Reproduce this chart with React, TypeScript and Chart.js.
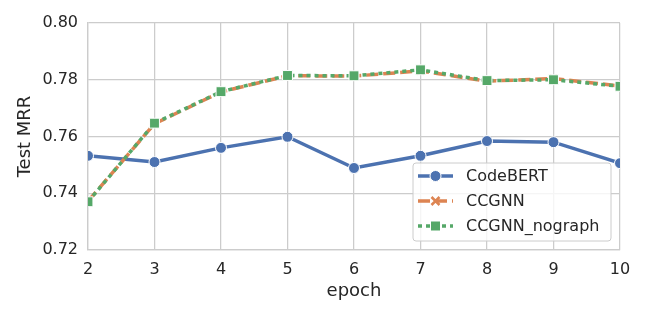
import React, { useEffect, useRef } from "react";
import { Chart, registerables } from "chart.js";

Chart.register(...registerables);

const epochs = [2, 3, 4, 5, 6, 7, 8, 9, 10];
const codebert = [0.7532, 0.751, 0.756, 0.7599, 0.7489, 0.7532, 0.7584, 0.758, 0.7506];
const ccgnn = [0.7372, 0.7645, 0.7757, 0.7814, 0.7813, 0.7831, 0.7795, 0.7804, 0.7778];
const ccgnnNograph = [0.737, 0.7647, 0.7758, 0.7815, 0.7814, 0.7835, 0.7797, 0.78, 0.7777];
const seriesNames = ["CodeBERT", "CCGNN", "CCGNN_nograph"];
const yTicks = [0.72, 0.74, 0.76, 0.78, 0.8];

const BLUE = "#4c72b0";
const ORANGE = "#dd8452";
const GREEN = "#55a868";
const TEXT = "#262626";
const GRID = "#cccccc";
const FONT = "DejaVu Sans";

const toXY = (vals: number[]) => vals.map((v, i) => ({ x: epochs[i], y: v }));

function drawMarker(ctx: CanvasRenderingContext2D, kind: string, x: number, y: number, color: string) {
  ctx.save();
  ctx.setLineDash([]);
  if (kind === "circle") {
    ctx.beginPath();
    ctx.arc(x, y, 5.5, 0, Math.PI * 2);
    ctx.fillStyle = color;
    ctx.fill();
    ctx.strokeStyle = "#ffffff";
    ctx.lineWidth = 1;
    ctx.stroke();
  } else if (kind === "cross") {
    const r = 4;
    ctx.strokeStyle = color;
    ctx.lineWidth = 2.5;
    ctx.beginPath();
    ctx.moveTo(x - r, y - r);
    ctx.lineTo(x + r, y + r);
    ctx.moveTo(x + r, y - r);
    ctx.lineTo(x - r, y + r);
    ctx.stroke();
  } else {
    ctx.fillStyle = color;
    ctx.fillRect(x - 5, y - 5, 10, 10);
    ctx.strokeStyle = "#ffffff";
    ctx.lineWidth = 1;
    ctx.strokeRect(x - 5, y - 5, 10, 10);
  }
  ctx.restore();
}

const legendPlugin = {
  id: "customLegend",
  afterDraw(chart: any) {
    const ctx = chart.ctx as CanvasRenderingContext2D;
    const bx = 413, by = 163, bw = 198, bh = 78, r = 3;
    ctx.save();
    ctx.beginPath();
    ctx.moveTo(bx + r, by);
    ctx.lineTo(bx + bw - r, by);
    ctx.arcTo(bx + bw, by, bx + bw, by + r, r);
    ctx.lineTo(bx + bw, by + bh - r);
    ctx.arcTo(bx + bw, by + bh, bx + bw - r, by + bh, r);
    ctx.lineTo(bx + r, by + bh);
    ctx.arcTo(bx, by + bh, bx, by + bh - r, r);
    ctx.lineTo(bx, by + r);
    ctx.arcTo(bx, by, bx + r, by, r);
    ctx.closePath();
    ctx.fillStyle = "rgba(255,255,255,0.8)";
    ctx.fill();
    ctx.strokeStyle = GRID;
    ctx.lineWidth = 1;
    ctx.stroke();

    const items = [
      { name: seriesNames[0], color: BLUE, dash: [] as number[], marker: "circle" },
      { name: seriesNames[1], color: ORANGE, dash: [12, 5], marker: "cross" },
      { name: seriesNames[2], color: GREEN, dash: [4, 4], marker: "square" },
    ];
    items.forEach((it, i) => {
      const y = 176 + i * 25;
      ctx.beginPath();
      ctx.setLineDash(it.dash);
      ctx.strokeStyle = it.color;
      ctx.lineWidth = 3.5;
      ctx.moveTo(418, y);
      ctx.lineTo(453, y);
      ctx.stroke();
      ctx.setLineDash([]);
      drawMarker(ctx, it.marker, 435.5, y, it.color);
      ctx.fillStyle = TEXT;
      ctx.font = `16px "${FONT}"`;
      ctx.textBaseline = "middle";
      ctx.textAlign = "left";
      ctx.fillText(it.name, 466, y + 1);
    });
    ctx.restore();
  },
};

export default function App() {
  const canvasRef = useRef<HTMLCanvasElement | null>(null);

  useEffect(() => {
    if (!canvasRef.current) return;
    const chart = new Chart(canvasRef.current, {
      type: "line",
      data: {
        datasets: [
          {
            label: seriesNames[0],
            data: toXY(codebert),
            borderColor: BLUE,
            backgroundColor: BLUE,
            borderWidth: 3.5,
            pointStyle: "circle",
            pointRadius: 5.5,
            pointBorderColor: "#ffffff",
            pointBorderWidth: 1,
            pointBackgroundColor: BLUE,
            tension: 0,
            clip: 0,
            order: 2,
          },
          {
            label: seriesNames[1],
            data: toXY(ccgnn),
            borderColor: ORANGE,
            backgroundColor: ORANGE,
            borderWidth: 3.5,
            borderDash: [12, 5],
            pointStyle: "crossRot",
            pointRadius: 5,
            pointBorderColor: ORANGE,
            pointBorderWidth: 2.5,
            tension: 0,
            clip: 0,
            order: 1,
          },
          {
            label: seriesNames[2],
            data: toXY(ccgnnNograph),
            borderColor: GREEN,
            backgroundColor: GREEN,
            borderWidth: 3.5,
            borderDash: [4, 4],
            pointStyle: "rect",
            pointRadius: 7,
            pointBorderColor: "#ffffff",
            pointBorderWidth: 1,
            pointBackgroundColor: GREEN,
            tension: 0,
            clip: 0,
            order: 0,
          },
        ] as any,
      },
      options: {
        responsive: false,
        animation: false,
        layout: { padding: { left: 0, right: 28, top: 23, bottom: 0 } },
        plugins: {
          legend: { display: false },
          tooltip: { enabled: false },
          title: { display: false },
        },
        scales: {
          x: {
            type: "linear",
            min: 2,
            max: 10,
            offset: false,
            afterFit: (s: any) => {
              s.height = 68;
            },
            ticks: {
              stepSize: 1,
              color: TEXT,
              font: { family: FONT, size: 16 },
              padding: 10,
              maxRotation: 0,
              callback: (v: any) => String(v),
            },
            grid: { color: GRID, lineWidth: 1.25, drawTicks: false },
            border: { color: GRID, width: 1.25 },
            title: {
              display: true,
              text: "epoch",
              color: TEXT,
              font: { family: FONT, size: 18 },
              padding: { top: 0, bottom: 16 },
            },
          },
          y: {
            type: "linear",
            min: 0.72,
            max: 0.8,
            afterFit: (s: any) => {
              s.width = 88;
            },
            afterBuildTicks: (s: any) => {
              s.ticks = yTicks.map((v) => ({ value: v }));
            },
            ticks: {
              color: TEXT,
              font: { family: FONT, size: 16 },
              padding: 10,
              callback: (v: any) => Number(v).toFixed(2),
            },
            grid: { color: GRID, lineWidth: 1.25, drawTicks: false },
            border: { color: GRID, width: 1.25 },
            title: {
              display: true,
              text: "Test MRR",
              color: TEXT,
              font: { family: FONT, size: 18 },
              padding: { top: 15, bottom: 0 },
            },
          },
        },
      } as any,
      plugins: [legendPlugin],
    });
    return () => chart.destroy();
  }, []);

  return (
    <div style={{ position: "fixed", left: 0, top: 0, width: 648, height: 318, background: "#ffffff" }}>
      <canvas ref={canvasRef} width={648} height={318} style={{ width: 648, height: 318 }} />
    </div>
  );
}
